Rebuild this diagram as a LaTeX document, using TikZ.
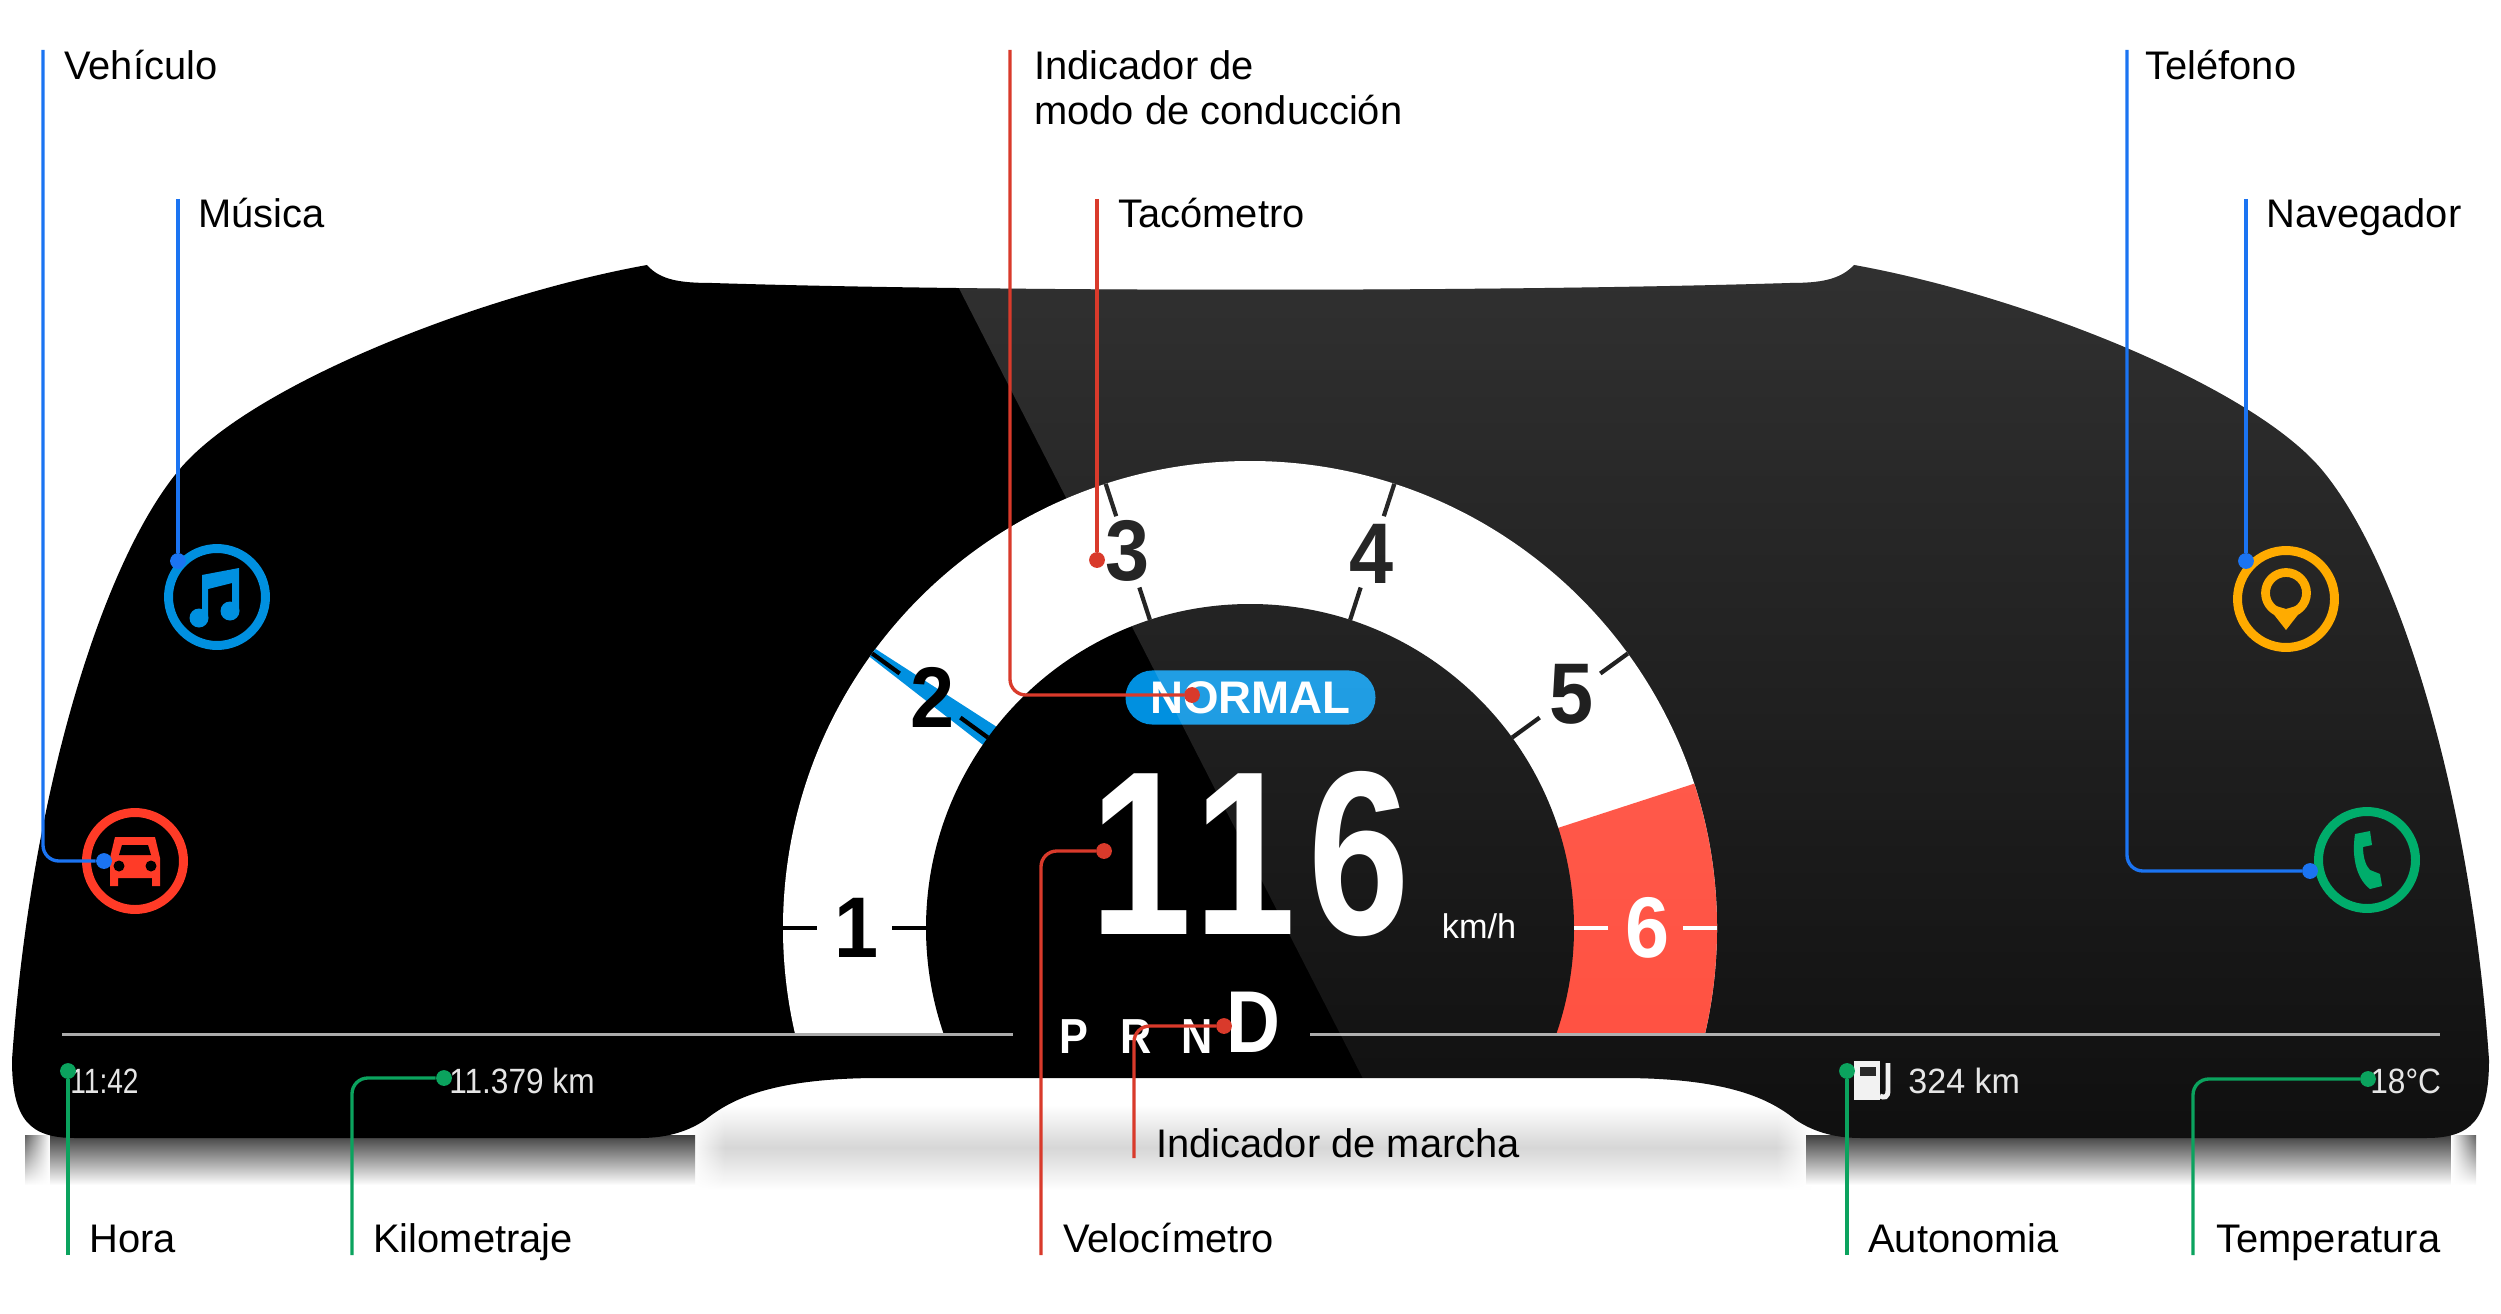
\documentclass[tikz,border=0pt]{standalone}
\usepackage{fontspec}
\setmainfont{Liberation Sans}
\usetikzlibrary{fadings}
\definecolor{leadblue}{HTML}{1B74F2}
\definecolor{leadred}{HTML}{D93A2B}
\definecolor{leadgreen}{HTML}{0BA35E}
\definecolor{musicblue}{HTML}{0090E0}
\definecolor{carred}{HTML}{FF3B27}
\definecolor{navamber}{HTML}{FFAB00}
\definecolor{phonegreen}{HTML}{00AD6B}
\definecolor{zonered}{HTML}{FF4433}
\tikzstyle{callout}=[font=\fontsize{22.7}{25.4}\selectfont, anchor=base west, inner sep=0]
\tikzstyle{lead}=[line width=1.9pt, rounded corners=9pt]
\tikzstyle{leaddot}=[circle, fill, inner sep=0, minimum size=9pt]
\tikzstyle{ring}=[circle, draw, line width=5.1pt, inner sep=0, minimum size=55.2pt]
\tikzstyle{tachonum}=[font=\fontsize{49}{49}\bfseries\selectfont, inner sep=0]
\tikzstyle{tachotick}=[line width=2.4pt]
\tikzstyle{tripdata}=[font=\fontsize{20}{20}\selectfont, text=white!90!black, anchor=base west, inner sep=0]
\tikzstyle{gear}=[font=\fontsize{28}{28}\bfseries\selectfont, text=white, anchor=base, inner sep=0]
\tikzfading[name=gleamfade, top color=transparent!80, bottom color=transparent!94]
\newcommand{\bodyoutline}{(647,265) .. controls (480,295) and (250,385) .. (179,470)
  .. controls (100,565) and (30,800) .. (12,1060) .. controls (12,1120) and (30,1138) .. (75,1138) -- (640,1138)
  .. controls (670,1138) and (690,1130) .. (705,1120) .. controls (730,1100) and (770,1078) .. (880,1078)
  -- (1621,1078) .. controls (1731,1078) and (1771,1100) .. (1796,1120) .. controls (1811,1130) and (1831,1138) .. (1861,1138)
  -- (2426,1138) .. controls (2471,1138) and (2489,1120) .. (2489,1060)
  .. controls (2471,800) and (2401,565) .. (2322,470) .. controls (2251,385) and (2021,295) .. (1854,265)
  .. controls (1840,280) and (1820,283) .. (1790,283) .. controls (1500,292) and (1000,292) .. (712,283)
  .. controls (680,283) and (660,280) .. (647,265) -- cycle}

\begin{document}
\begin{tikzpicture}[x=0.02cm, y=-0.02cm]
      \useasboundingbox (0,0) rectangle (2501,1314);

      \shade[top color=white, bottom color=white, middle color=black!16] (690,1105) rectangle (1811,1190);
      \fill[white, path fading=east] (690,1100) rectangle (725,1195);
      \fill[white, path fading=west] (1776,1100) rectangle (1811,1195);
      \shade[top color=black!75, bottom color=white] (25,1135) rectangle (695,1185);
      \shade[top color=black!75, bottom color=white] (1806,1135) rectangle (2476,1185);
      \fill[white, path fading=west] (20,1130) rectangle (50,1190);
      \fill[white, path fading=east] (2451,1130) rectangle (2481,1190);

      \fill[black] \bodyoutline;

      \coordinate (dial) at (1250,928);

      \begin{scope}
      \clip (700,400) rectangle (1800,1033);
      \clip (dial) circle[radius=467];
      \fill[white] (700,400) rectangle (1800,1033);
      \fill[musicblue] (871,646) -- (1000,729) -- (987,748) -- (866,654) -- cycle;
      \begin{scope}[shift={(dial)}]
      \fill[zonered] (0,0) -- (-18:600) -- (30:600) -- cycle;
      \end{scope}
      \fill[black] (dial) circle[radius=324];
      \end{scope}

      \begin{scope}[shift={(dial)}]
      \foreach \digit/\angle/\rad/\shadecol in {1/180/393/black, 2/144/393/black, 3/108/396/black, 4/72/393/black, 5/36/398/black, 6/0/398/white} {
        \draw[tachotick, \shadecol] (-\angle:467) -- (-\angle:433);
        \draw[tachotick, \shadecol] (-\angle:358) -- (-\angle:324);
        \node[tachonum, text=\shadecol] (num\digit) at (-\angle:\rad) {\scalebox{.92}[1]{\digit}};
      }
      \end{scope}

      \node[fill=musicblue, rounded corners=15.3pt, minimum width=142.3pt, minimum height=30.8pt, inner sep=0] (mode pill) at (1250.5,697.5) {};
      \node[font=\fontsize{26}{26}\bfseries\selectfont, text=white, inner sep=0] (mode text) at (mode pill) {NORMAL};

      \node[font=\fontsize{133}{133}\bfseries\selectfont, text=white, inner sep=0, anchor=base] (speed) at (1250,934) {\scalebox{.78}[1]{\addfontfeatures{LetterSpace=7}116}};
      \node[font=\fontsize{19.5}{20}\selectfont, text=white, inner sep=0] (speed unit) at (1479,926) {km/h};

      \draw[white!67!black, line width=1.7pt] (62,1034) -- (1013,1034);
      \draw[white!67!black, line width=1.7pt] (1310,1034) -- (2440,1034);

      \node[gear] (gear p) at (1074,1053) {\scalebox{.88}[1]{P}};
      \node[gear] (gear r) at (1136,1053) {\scalebox{.88}[1]{R}};
      \node[gear] (gear n) at (1197,1053) {\scalebox{.88}[1]{N}};
      \node[gear, font=\fontsize{50}{50}\bfseries\selectfont] (gear d) at (1253,1052) {\scalebox{.85}[1]{D}};

      \node[ring, draw=musicblue] (music) at (217,597) {};
      \fill[musicblue] (199,618) circle[radius=9.5] (230,611) circle[radius=9.5];
      \fill[musicblue] (202,575) -- (239,568) -- (239,611) -- (232,611) -- (232,583) -- (208,589) -- (208,618) -- (202,618) -- cycle;

      \node[ring, draw=carred] (vehicle) at (135,861) {};
      \fill[carred] (115,837) -- (155,837) -- (160,858) -- (160,886) -- (152,886) -- (152,878) -- (118,878) -- (118,886) -- (110,886) -- (110,858) -- cycle;
      \fill[black] (122,845) -- (148,845) -- (151,855) -- (119,855) -- cycle;
      \fill[black] (119,866) circle[radius=5.5] (151,866) circle[radius=5.5];

      \node[tripdata] (clock) at (70,1093) {\scalebox{.8}[1]{11:42}};
      \node[tripdata] (odo) at (449,1093) {\scalebox{.9}[1]{11.379 km}};
      \node[tripdata] (range) at (1908,1093) {\scalebox{.97}[1]{324 km}};
      \node[tripdata] (temp) at (2370,1093) {\scalebox{.9}[1]{18°C}};
      \fill[white!95!black] (1854,1061) rectangle (1880,1100);
      \fill[black!90] (1860,1067) rectangle (1875.5,1076);
      \draw[white!95!black, line width=2.8pt] (1888,1063) -- (1888,1090) .. controls (1888,1098) and (1884,1098) .. (1880,1096);

      \begin{scope}
      \clip \bodyoutline;
      \fill[white, path fading=gleamfade] (915,200) -- (2501,200) -- (2501,1140) -- (1396,1140) -- cycle;
      \end{scope}

      \node[ring, draw=navamber] (nav) at (2286,599) {};
      \draw[navamber, line width=5pt] (2286,593) circle[radius=20.5];
      \fill[navamber] (2268,607) -- (2286,630) -- (2304,607) -- (2296,606) -- (2286,609) -- (2276,606) -- cycle;

      \node[ring, draw=phonegreen] (phone) at (2367,860) {};
      \fill[phonegreen] (2355,834) -- (2370,831) -- (2372,845) -- (2363,847) .. controls (2363,858) and (2366,866) .. (2370,870) -- (2380,874) -- (2382,886) -- (2370,889) .. controls (2358,880) and (2351,860) .. (2355,834) -- cycle;

      \node[callout] (lbl vehicle) at (64,80) {Vehículo};
      \node[callout] (lbl music) at (198,228) {Música};
      \node[callout] (lbl mode1) at (1034,80) {Indicador de};
      \node[callout] (lbl mode2) at (1034,125) {modo de conducción};
      \node[callout] (lbl tacho) at (1118,228) {Tacómetro};
      \node[callout] (lbl phone) at (2145,80) {Teléfono};
      \node[callout] (lbl nav) at (2266,228) {Navegador};
      \node[callout] (lbl gear) at (1156,1157) {Indicador de marcha};
      \node[callout] (lbl clock) at (89,1252) {Hora};
      \node[callout] (lbl odo) at (373,1252) {Kilometraje};
      \node[callout] (lbl speed) at (1063,1252) {Velocímetro};
      \node[callout] (lbl range) at (1868,1252) {Autonomia};
      \node[callout] (lbl temp) at (2216,1252) {Temperatura};

      \coordinate (vehicle top) at (43,50);
      \coordinate (music top) at (178,199);
      \coordinate (phone top) at (2127,50);
      \coordinate (nav top) at (2246,199);
      \node[leaddot, leadblue] (vehicle dot) at (104,861) {};
      \node[leaddot, leadblue] (music dot) at (178,561) {};
      \node[leaddot, leadblue] (phone dot) at (2310,871) {};
      \node[leaddot, leadblue] (nav dot) at (2246,561) {};
      \draw[lead, leadblue] (vehicle top) |- (vehicle dot);
      \draw[lead, leadblue] (music top) -- (music dot);
      \draw[lead, leadblue] (phone top) |- (phone dot);
      \draw[lead, leadblue] (nav top) -- (nav dot);

      \coordinate (mode top) at (1010,50);
      \coordinate (tacho top) at (1097,199);
      \coordinate (speed bottom) at (1041,1255);
      \coordinate (gear bottom) at (1134,1158);
      \node[leaddot, leadred] (mode dot) at (1192,695) {};
      \node[leaddot, leadred] (tacho dot) at (1097,560) {};
      \node[leaddot, leadred] (speed dot) at (1104,851) {};
      \node[leaddot, leadred] (gear dot) at (1224,1026) {};
      \draw[lead, leadred] (mode top) |- (mode dot);
      \draw[lead, leadred] (tacho top) -- (tacho dot);
      \draw[lead, leadred] (speed bottom) |- (speed dot);
      \draw[lead, leadred] (gear bottom) |- (gear dot);

      \coordinate (clock bottom) at (68,1255);
      \coordinate (odo bottom) at (352,1255);
      \coordinate (range bottom) at (1847,1255);
      \coordinate (temp bottom) at (2193,1255);
      \node[leaddot, leadgreen] (clock dot) at (68,1071) {};
      \node[leaddot, leadgreen] (odo dot) at (444,1078) {};
      \node[leaddot, leadgreen] (range dot) at (1847,1071) {};
      \node[leaddot, leadgreen] (temp dot) at (2368,1079) {};
      \draw[lead, leadgreen] (clock bottom) -- (clock dot);
      \draw[lead, leadgreen] (odo bottom) |- (odo dot);
      \draw[lead, leadgreen] (range bottom) -- (range dot);
      \draw[lead, leadgreen] (temp bottom) |- (temp dot);
\end{tikzpicture}
\end{document}
